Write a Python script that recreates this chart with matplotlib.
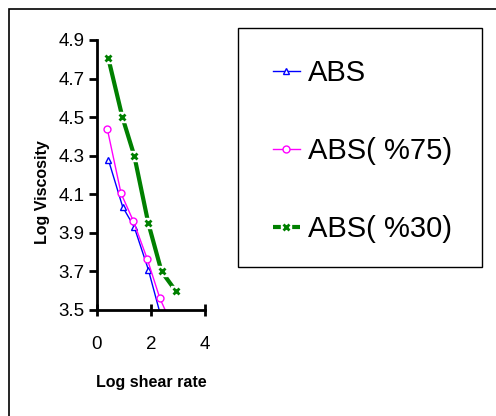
import matplotlib.pyplot as plt
from matplotlib.patches import Rectangle
from matplotlib.legend_handler import HandlerTuple

# data
abs_x = [0.42, 0.95, 1.38, 1.90, 2.36]
abs_y = [4.28, 4.035, 3.93, 3.71, 3.47]
abs75_x = [0.38, 0.89, 1.35, 1.86, 2.33, 2.88]
abs75_y = [4.44, 4.105, 3.96, 3.765, 3.56, 3.39]
abs30_x = [0.42, 0.94, 1.38, 1.90, 2.39, 2.91]
abs30_y = [4.805, 4.50, 4.30, 3.95, 3.70, 3.60]
labels = ['ABS', 'ABS( %75)', 'ABS( %30)']
yticks = [3.5, 3.7, 3.9, 4.1, 4.3, 4.5, 4.7, 4.9]
xticks = [0, 2, 4]

plt.rcParams['font.family'] = ['Liberation Sans', 'DejaVu Sans']

W, H = 496, 416
fig = plt.figure(figsize=(W / 100, H / 100), dpi=100)
ax = fig.add_axes([97 / W, 1 - 310 / H, 108 / W, 270 / H])

# blue
l1, = ax.plot(abs_x, abs_y, color='#0000FF', lw=1, marker='^', ms=5,
              mfc='white', mec='#0000FF', mew=1)
# magenta
l2, = ax.plot(abs75_x, abs75_y, color='#FF00FF', lw=1, marker='o', ms=5,
              mfc='white', mec='#FF00FF', mew=1)
# green thick line with small gaps at the markers
l3, = ax.plot(abs30_x, abs30_y, color='#008000', lw=3, solid_capstyle='butt')
g_gap, = ax.plot(abs30_x, abs30_y, ls='none', marker='s', ms=6.5, mfc='white', mec='white')
g_mk, = ax.plot(abs30_x, abs30_y, ls='none', marker='x', ms=4.5, mec='#008000', mew=2)

ax.set_xlim(0, 4)
ax.set_ylim(3.5, 4.9)
ax.set_xticks(xticks)
ax.set_yticks(yticks)
ax.set_yticklabels(['%.1f' % v for v in yticks])
ax.spines['top'].set_visible(False)
ax.spines['right'].set_visible(False)
ax.spines['left'].set_linewidth(2)
ax.spines['bottom'].set_linewidth(2)
ax.tick_params(axis='y', direction='out', length=6, width=2, labelsize=13.5, pad=3)
ax.tick_params(axis='x', direction='inout', length=9, width=2, labelsize=13.5, pad=14)
for sp in ax.spines.values():
    sp.set_clip_on(False)

fig.text(151 / W, 1 - 383 / H, 'Log shear rate', ha='center', va='center',
         fontsize=11.5, fontweight='bold')
fig.text(43 / W, 1 - 192 / H, 'Log Viscosity', ha='center', va='center',
         rotation=90, fontsize=11.5, fontweight='bold')

# legend box
fig.patches.append(Rectangle((238 / W, 1 - 267 / H), 244 / W, 239 / H,
                             transform=fig.transFigure, fill=False,
                             edgecolor='black', lw=1))
leg = fig.legend([l1, l2, (l3, g_gap, g_mk)], labels,
                 handler_map={tuple: HandlerTuple(ndivide=1)},
                 loc='upper left', bbox_to_anchor=(273 / W, 1 - 59 / H),
                 frameon=False, fontsize=21, handlelength=0.92,
                 handletextpad=0.27, labelspacing=1.72, borderpad=0,
                 borderaxespad=0)

# outer border
fig.patches.append(Rectangle((9 / W, -0.1), 1.2, 1.1 - 9 / H,
                             transform=fig.transFigure, fill=False,
                             edgecolor='black', lw=1.2, clip_on=False))

fig.savefig('out.png', dpi=100)
